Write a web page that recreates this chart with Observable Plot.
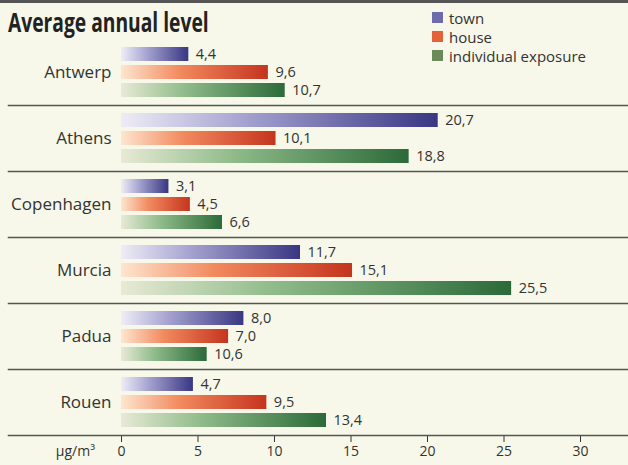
<!DOCTYPE html>
<html><head><meta charset="utf-8">
<script src="https://cdn.jsdelivr.net/npm/d3@7"></script>
<script src="https://cdn.jsdelivr.net/npm/@observablehq/plot@0.6"></script>
<style>
html,body{margin:0;padding:0;background:#f7f8e9;}
#wrap{position:relative;width:628px;height:465px;background:#f7f8e9;overflow:hidden;font-family:"Open Sans",sans-serif;color:#333;}
#topline{position:absolute;left:0;top:0;width:628px;height:3px;background:#555;}
#title{position:absolute;left:8px;top:4px;font-family:"Open Sans",sans-serif;font-weight:bold;font-size:26px;color:#222;transform:scaleX(0.74);transform-origin:left top;white-space:nowrap;}
#legend{position:absolute;left:432px;top:8px;font-size:15px;line-height:20px;color:#333;}
#legend div{display:flex;align-items:center;height:19px;}
#legend span.sw{display:inline-block;width:11px;height:11px;margin-right:6px;}
#unit{position:absolute;right:533px;top:441px;font-size:14px;color:#333;}
#chart{position:absolute;left:0;top:0;}
</style></head><body>
<svg width="0" height="0" style="position:absolute"><defs>
<linearGradient id="g-town" x1="0" x2="1" y1="0" y2="0">
<stop offset="0" stop-color="#eeedf6"/><stop offset="0.4" stop-color="#a3a0cf"/><stop offset="1" stop-color="#393683"/>
</linearGradient>
<linearGradient id="g-house" x1="0" x2="1" y1="0" y2="0">
<stop offset="0" stop-color="#fde6cf"/><stop offset="0.4" stop-color="#f28a5f"/><stop offset="1" stop-color="#c5341e"/>
</linearGradient>
<linearGradient id="g-exp" x1="0" x2="1" y1="0" y2="0">
<stop offset="0" stop-color="#e8ead6"/><stop offset="0.4" stop-color="#8dba88"/><stop offset="1" stop-color="#2c6a39"/>
</linearGradient>
</defs></svg>
<div id="wrap">
<div id="chart"></div>
<div id="topline"></div>
<div id="title">Average annual level</div>
<div id="legend"></div>
<div id="unit">μg/m³</div>
</div>
<script>
const cities = ["Antwerp","Athens","Copenhagen","Murcia","Padua","Rouen"];
const series = ["town","house","individual exposure"];
const town = [4.4, 20.7, 3.1, 11.7, 8.0, 4.7];
const house = [9.6, 10.1, 4.5, 15.1, 7.0, 9.5];
const exposure = [10.7, 18.8, 6.6, 25.5, 5.6, 13.4]; // bar lengths as drawn
const townLabels = ["4,4","20,7","3,1","11,7","8,0","4,7"];
const houseLabels = ["9,6","10,1","4,5","15,1","7,0","9,5"];
const exposureLabels = ["10,7","18,8","6,6","25,5","10,6","13,4"];
const xTicks = [0,5,10,15,20,25,30];
const gradients = ["url(#g-town)","url(#g-house)","url(#g-exp)"];
const swatches = ["#6e6bab","#e4623a","#6b8a5a"];

const valuesBySeries = [town, house, exposure];
const labelsBySeries = [townLabels, houseLabels, exposureLabels];
const data = cities.flatMap((c, i) => series.map((s, j) => ({
  city: c, series: s, value: valuesBySeries[j][i], label: labelsBySeries[j][i], k: j
})));

const marks = [];
series.forEach((s, j) => {
  marks.push(Plot.barX(data.filter(d => d.k === j), {x: "value", y: "series", fy: "city", fill: gradients[j]}));
});
marks.push(Plot.text(data, {x: "value", y: "series", fy: "city", text: "label", dx: 7, textAnchor: "start", fontSize: 14.5, fill: "#333"}));
marks.push(Plot.text(cities, {fy: d => d, text: d => d, frameAnchor: "left", dx: -10, textAnchor: "end", fontSize: 17, fill: "#333"}));
marks.push(Plot.frame({anchor: "bottom", insetLeft: -113, insetRight: -48, stroke: "#555", strokeWidth: 1.5}));

const chart = Plot.plot({
  width: 628, height: 465,
  marginLeft: 121, marginRight: 48, marginTop: 38, marginBottom: 30,
  style: {background: "transparent", fontFamily: "'Open Sans', sans-serif", fontSize: "14px", color: "#333", overflow: "visible"},
  x: {domain: [0, 30], ticks: xTicks, tickSize: 7, tickPadding: 4, tickFormat: d => String(d), label: null},
  y: {domain: series, axis: null, paddingInner: 0.22, paddingOuter: 0.44},
  fy: {domain: cities, axis: null, padding: 0, label: null},
  marks
});
document.getElementById("chart").appendChild(chart);

const leg = d3.select("#legend");
series.forEach((s, j) => {
  const row = leg.append("div");
  row.append("span").attr("class", "sw").style("background", swatches[j]);
  row.append("span").text(s);
});
</script>
</body></html>
